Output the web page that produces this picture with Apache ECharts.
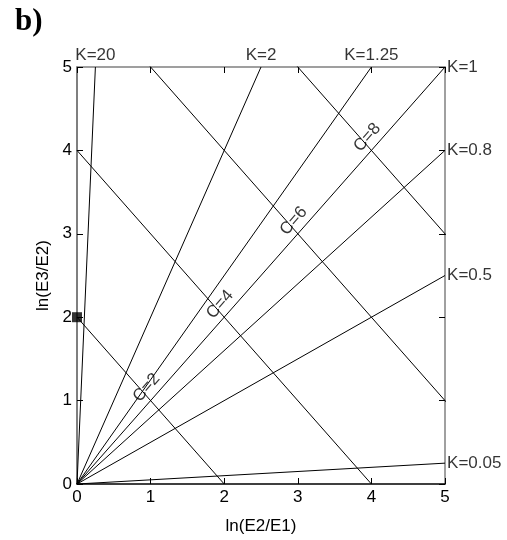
<!DOCTYPE html>
<html>
<head>
<meta charset="utf-8">
<script src="https://cdn.jsdelivr.net/npm/echarts@6/dist/echarts.min.js"></script>
<style>html,body{margin:0;padding:0;background:#fff}#c{width:507px;height:540px}</style>
</head>
<body>
<div id="c"></div>
<script>
// K lines: y = K * x
var kValues = [20, 2, 1.25, 1, 0.8, 0.5, 0.05];
var kLabels = ['K=20', 'K=2', 'K=1.25', 'K=1', 'K=0.8', 'K=0.5', 'K=0.05'];
// C lines: x + y = C
var cValues = [2, 4, 6, 8];
var cLabels = ['C=2', 'C=4', 'C=6', 'C=8'];
// marked point
var markedPoint = [[0, 2]];
var xTicks = [0, 1, 2, 3, 4, 5];
var yTicks = [0, 1, 2, 3, 4, 5];

var AX_MIN = 0, AX_MAX = 5;
var FONT = 'Liberation Sans, Arial, sans-serif';
var FS = 17;

function clipK(k) {
  if (k > 1) return [AX_MAX / k, AX_MAX];
  return [AX_MAX, AX_MAX * k];
}

var series = [];
kValues.forEach(function (k, i) {
  var end = clipK(k);
  series.push({
    type: 'line', silent: true, symbol: 'none', clip: true,
    lineStyle: { color: '#000', width: 1 },
    data: [[0, 0], end], z: 2
  });
  series.push({
    type: 'scatter', silent: true, symbolSize: 0.1,
    data: [end],
    label: {
      show: true, formatter: kLabels[i],
      position: k > 1 ? 'top' : 'right',
      distance: k > 1 ? 3 : 2,
      color: '#000', fontSize: FS, fontFamily: FONT
    }, z: 5
  });
});
cValues.forEach(function (c, i) {
  series.push({
    type: 'line', silent: true, symbol: 'none', clip: true,
    lineStyle: { color: '#000', width: 1 },
    data: [[0, c], [c, 0]], z: 2
  });
  series.push({
    type: 'scatter', silent: true, symbolSize: 0.1,
    data: [[c / 2, c / 2]],
    label: {
      show: true, formatter: cLabels[i], position: 'inside',
      offset: [7, -11.5], rotate: 49, align: 'center', verticalAlign: 'middle',
      color: '#000', fontSize: FS, fontFamily: FONT
    }, z: 5
  });
});
series.push({
  type: 'scatter', silent: true, symbol: 'rect', symbolSize: 10,
  itemStyle: { color: '#000' }, data: markedPoint, z: 6
});

function tickAxis(pos, color, showLabel, name) {
  return {
    type: 'value', min: AX_MIN, max: AX_MAX, interval: 1, position: pos,
    name: name || '',
    axisLine: { show: true, onZero: false, lineStyle: { color: color, width: 1.5 } },
    axisTick: { show: true, inside: true, length: 6, lineStyle: { color: '#000' } },
    axisLabel: { show: showLabel, color: '#000', fontSize: FS, fontFamily: FONT, margin: 5 },
    splitLine: { show: false }
  };
}

var xb = tickAxis('bottom', '#000', true, 'ln(E2/E1)');
xb.nameLocation = 'middle'; xb.nameGap = 34;
xb.nameTextStyle = { color: '#000', fontSize: FS, fontFamily: FONT };
var xt = tickAxis('top', '#808080', false);
var yl = tickAxis('left', '#555', true, 'ln(E3/E2)');
yl.nameLocation = 'middle'; yl.nameGap = 24;
yl.nameTextStyle = { color: '#000', fontSize: FS, fontFamily: FONT };
var yr = tickAxis('right', '#808080', false);

var chart = echarts.init(document.getElementById('c'), null, { renderer: 'canvas' });
chart.setOption({
  animation: false,
  backgroundColor: '#fff',
  title: {
    text: 'b)', left: 10, top: 1,
    textStyle: { fontFamily: 'Liberation Serif, Times New Roman, serif', fontWeight: 'bold', fontSize: 31, color: '#000' }
  },
  grid: { left: 77, right: 62, top: 67, bottom: 56 },
  xAxis: [xb, xt],
  yAxis: [yl, yr],
  series: series
});
</script>
</body>
</html>
